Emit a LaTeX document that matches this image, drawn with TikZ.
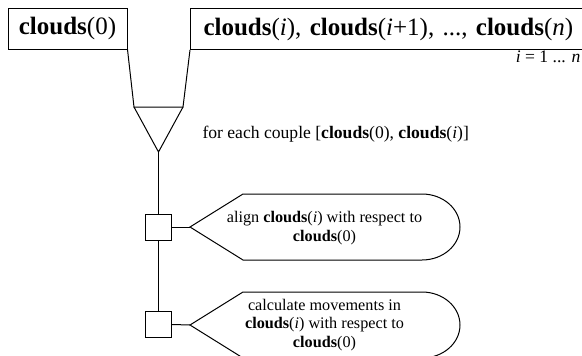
\documentclass[tikz,border=0pt]{standalone}
\usepackage{fontspec}
\setmainfont{Liberation Serif}
\begin{document}
\begin{tikzpicture}[x=1pt,y=-1pt,
  line width=1pt,
  bigbox/.style={draw, inner sep=0pt, minimum height=41pt, font=\fontsize{25}{30}\selectfont},
  sqbox/.style={draw, inner sep=0pt, minimum width=26pt, minimum height=26pt},
  txt/.style={font=\fontsize{17.6}{18.6}\selectfont, align=center, inner sep=0pt},
  stxt/.style={font=\fontsize{16.2}{18.6}\selectfont, align=center, inner sep=0pt},
  tagshape/.style={draw, line join=miter}
]
\useasboundingbox (0,0) rectangle (582,356);
\clip (0,0) rectangle (582,356);

\node[bigbox, minimum width=119pt] (box1) at (67.5,28.5) {\textbf{clouds}(0)};
\node[bigbox, anchor=north west, text width=387pt, align=left, inner xsep=13pt] (box2) at (190,8)
  {\textbf{clouds}(\textit{i}), \textbf{clouds}(\textit{i}+1), ..., \textbf{clouds}(\textit{n})};

\node[txt, anchor=base east] (range) at (581,63) {\textit{i} = 1 ... \textit{n}};

% funnel
\coordinate (fl) at (134,107);
\coordinate (fr) at (183,107);
\coordinate (tip) at (158.5,152);
\draw[line join=miter] (box1.south east) -- (fl) -- (fr) -- (box2.south west);
\draw[line join=miter] (fl) -- (tip) -- (fr);

\node[txt, anchor=base west] (foreach) at (202,138)
  {for each couple [\textbf{clouds}(0), \textbf{clouds}(\textit{i})]};

% squares
\node[sqbox] (sq1) at (158.5,227) {};
\node[sqbox] (sq2) at (158.5,324.5) {};
\draw (tip) -- (sq1.north);
\draw (sq1.south) -- (sq2.north);

% shape 1
\coordinate (p1) at (190,227);
\draw[tagshape] (p1) -- (243,194) -- (422,194)
  arc[start angle=-90, end angle=90, x radius=38, y radius=33]
  -- (243,260) -- cycle;
\draw (sq1.east) -- (p1);
\node[stxt] (t1) at (324.5,228) {align \textbf{clouds}(\textit{i}) with respect to\\\textbf{clouds}(0)};

% shape 2
\coordinate (p2) at (190,325);
\draw[tagshape] (p2) -- (243,292) -- (422,292)
  arc[start angle=-90, end angle=90, x radius=38, y radius=33]
  -- (243,358) -- cycle;
\draw (sq2.east) -- (p2);
\node[stxt] (t2) at (324.5,325) {calculate movements in\\\textbf{clouds}(\textit{i}) with respect to\\\textbf{clouds}(0)};
\end{tikzpicture}
\end{document}
